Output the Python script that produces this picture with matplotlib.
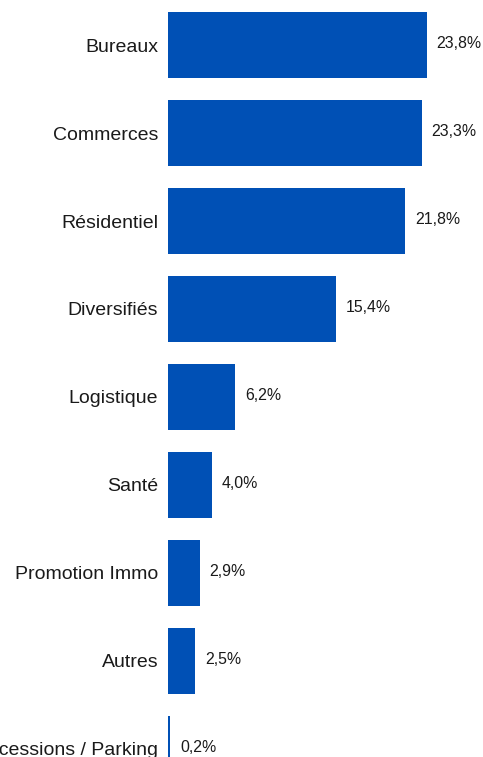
import numpy as np
import matplotlib
matplotlib.use('Agg')
import matplotlib.pyplot as plt

plt.rcParams['font.family'] = ['Liberation Sans', 'DejaVu Sans']

# share of the portfolio by asset type, in %
categories = ['Bureaux', 'Commerces', 'Résidentiel', 'Diversifiés', 'Logistique',
              'Santé', 'Promotion Immo', 'Autres', 'Concessions / Parking']
shares = [23.8, 23.3, 21.8, 15.4, 6.2, 4.0, 2.9, 2.5, 0.2]
value_labels = ['23,8%', '23,3%', '21,8%', '15,4%', '6,2%', '4,0%', '2,9%', '2,5%', '0,2%']

BAR_COLOR = '#0050b5'

W, H = 483, 757
fig = plt.figure(figsize=(W / 100, H / 100), dpi=100)
# axes starts at x=168px, 10.88 px per percentage point
left = 168 / W
width = (28 * 10.88) / W
ax = fig.add_axes([left, 0, width, 1])

y = np.arange(len(categories))
ax.barh(y, shares, height=0.75, color=BAR_COLOR)

for yi, v, lab in zip(y, shares, value_labels):
    ax.annotate(lab, (v, yi), xytext=(7, 1), textcoords='offset points',
                va='center', ha='left', fontsize=11.4, color='#1a1a1a')

ax.set_xlim(0, 28)
ax.set_ylim((757 - 45) / 88, -45 / 88)
ax.set_yticks(y)
ax.set_yticklabels(categories, fontsize=14, color='#1a1a1a')
ax.tick_params(axis='y', length=0, pad=7)
ax.set_xticks([])
for s in ax.spines.values():
    s.set_visible(False)

fig.savefig('out.png', dpi=100)
